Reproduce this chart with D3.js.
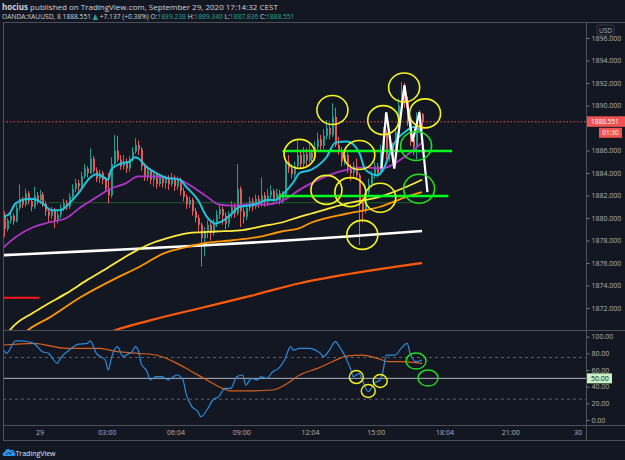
<!DOCTYPE html>
<html>
<head>
<meta charset="utf-8">
<script src="https://cdn.jsdelivr.net/npm/d3@7"></script>
<style>
  html, body { margin: 0; background: #131722; }
  svg { display: block; font-family: "Open Sans", "DejaVu Sans", sans-serif; }
</style>
</head>
<body>
<svg id="chart" width="625" height="460"></svg>
<script>
// ---- data (8 min bars, first bar 28 Sep 22:24) ----
var opens = [1880.3,1879.0,1879.8,1880.2,1879.7,1880.9,1881.7,1881.2,1882.2,1881.5,1881.0,1882.0,1881.6,1882.1,1881.3,1880.6,1880.2,1880.7,1879.8,1880.3,
  1880.9,1881.3,1881.0,1881.9,1882.6,1883.1,1882.8,1883.7,1884.4,1884.0,1885.3,1884.2,1883.5,1884.0,1883.4,1882.6,1882.0,1884.8,1886.0,1885.2,
  1884.6,1885.0,1884.4,1885.2,1885.9,1886.5,1886.1,1884.6,1883.6,1884.2,1883.4,1883.9,1883.0,1883.6,1883.1,1883.5,1883.0,1883.6,1882.8,1883.4,
  1882.4,1881.9,1881.2,1881.6,1880.6,1880.0,1879.4,1878.2,1878.8,1879.4,1878.7,1879.6,1880.3,1880.8,1880.2,1879.5,1880.3,1881.0,1880.4,1882.6,
  1880.6,1880.1,1880.9,1881.5,1881.0,1881.7,1881.3,1882.0,1881.4,1882.0,1882.4,1881.7,1882.2,1881.6,1882.0,1885.0,1884.4,1883.9,1884.6,1885.6,
  1884.8,1885.7,1885.1,1885.8,1885.3,1886.3,1887.0,1886.4,1887.3,1888.0,1887.4,1889.0,1886.5,1886.0,1885.0,1885.6,1884.5,1884.0,1884.6,1883.8,
  1881.4,1880.6,1882.3,1883.0,1883.8,1884.6,1884.0,1886.0,1887.6,1885.6,1886.4,1885.4,1887.6,1890.0,1891.2,1890.4,1888.6,1887.0,1886.3,1888.4,
  1889.238];
var highs = [1880.6,1880.0,1880.5,1880.4,1881.2,1883.0,1881.9,1882.6,1882.4,1881.8,1882.8,1882.3,1882.5,1882.3,1881.5,1880.9,1881.0,1880.9,1880.6,1881.2,
  1881.7,1881.6,1882.2,1883.0,1883.5,1883.4,1884.1,1884.8,1884.6,1886.2,1885.5,1884.5,1884.3,1884.2,1883.6,1884.0,1885.4,1887.4,1887.3,1885.6,
  1885.6,1885.3,1885.5,1886.3,1887.1,1886.9,1886.3,1884.9,1884.6,1884.4,1884.2,1884.1,1883.9,1883.8,1883.8,1883.8,1884.0,1883.8,1883.7,1883.6,
  1882.7,1882.1,1881.9,1881.8,1880.9,1880.3,1879.6,1879.2,1879.8,1879.6,1879.9,1880.7,1881.2,1881.0,1880.5,1880.6,1881.5,1881.3,1884.8,1882.8,
  1881.0,1881.3,1881.9,1881.8,1882.1,1882.0,1883.6,1882.3,1882.6,1882.9,1882.6,1882.6,1882.5,1882.4,1885.4,1885.6,1884.8,1885.0,1886.9,1886.0,
  1886.3,1886.2,1886.6,1886.1,1886.8,1887.6,1887.4,1887.9,1888.7,1888.4,1890.2,1889.8,1887.2,1886.3,1886.0,1885.8,1884.8,1885.0,1885.3,1884.0,
  1881.8,1882.6,1883.5,1884.2,1885.0,1884.9,1886.5,1888.1,1887.8,1886.9,1886.7,1888.0,1890.6,1892.1,1892.0,1890.8,1889.0,1887.4,1889.4,1889.6,
  1889.34];
var lows = [1878.3,1878.8,1879.5,1879.4,1879.6,1880.7,1880.9,1881.0,1881.2,1880.6,1880.8,1881.2,1881.3,1881.0,1880.2,1879.6,1879.9,1879.1,1879.5,1880.0,
  1880.6,1880.7,1880.8,1881.7,1882.3,1882.4,1882.6,1883.5,1883.6,1883.9,1884.0,1883.2,1883.1,1883.0,1882.3,1881.3,1881.8,1884.6,1885.0,1884.3,
  1884.3,1884.0,1884.1,1885.0,1885.7,1885.6,1884.2,1883.3,1883.3,1883.0,1882.8,1882.6,1882.8,1882.7,1882.6,1882.5,1882.8,1882.4,1882.5,1882.0,
  1881.5,1880.8,1880.9,1880.2,1879.6,1878.8,1875.7,1876.6,1878.2,1878.0,1878.4,1879.2,1879.9,1879.4,1879.0,1879.2,1880.0,1880.0,1880.2,1879.2,
  1879.5,1879.8,1880.6,1880.6,1880.8,1880.9,1881.0,1881.0,1881.1,1881.7,1881.3,1881.4,1881.2,1881.3,1881.8,1884.0,1883.5,1883.6,1884.4,1884.4,
  1884.5,1884.6,1884.9,1884.9,1885.1,1886.0,1886.0,1886.1,1887.0,1887.0,1887.2,1886.3,1885.6,1884.6,1884.7,1884.0,1883.3,1883.5,1883.4,1877.6,
  1879.6,1880.4,1882.0,1882.7,1883.5,1883.6,1883.8,1885.8,1885.2,1885.0,1884.9,1885.2,1887.4,1889.6,1889.8,1888.2,1886.4,1885.6,1885.2,1887.6,
  1887.836];
var closes = [1879.0,1879.8,1880.2,1879.7,1880.9,1881.7,1881.2,1882.2,1881.5,1881.0,1882.0,1881.6,1882.1,1881.3,1880.6,1880.2,1880.7,1879.8,1880.3,1880.9,
  1881.3,1881.0,1881.9,1882.6,1883.1,1882.8,1883.7,1884.4,1884.0,1885.3,1884.2,1883.5,1884.0,1883.4,1882.6,1882.0,1884.8,1886.0,1885.2,1884.6,
  1885.0,1884.4,1885.2,1885.9,1886.5,1886.1,1884.6,1883.6,1884.2,1883.4,1883.9,1883.0,1883.6,1883.1,1883.5,1883.0,1883.6,1882.8,1883.4,1882.4,
  1881.9,1881.2,1881.6,1880.6,1880.0,1879.4,1878.2,1878.8,1879.4,1878.7,1879.6,1880.3,1880.8,1880.2,1879.5,1880.3,1881.0,1880.4,1882.6,1880.6,
  1880.1,1880.9,1881.5,1881.0,1881.7,1881.3,1882.0,1881.4,1882.0,1882.4,1881.7,1882.2,1881.6,1882.0,1885.0,1884.4,1883.9,1884.6,1885.6,1884.8,
  1885.7,1885.1,1885.8,1885.3,1886.3,1887.0,1886.4,1887.3,1888.0,1887.4,1889.0,1886.5,1886.0,1885.0,1885.6,1884.5,1884.0,1884.6,1883.8,1881.4,
  1880.6,1882.3,1883.0,1883.8,1884.6,1884.0,1886.0,1887.6,1885.6,1886.4,1885.4,1887.6,1890.0,1891.2,1890.4,1888.6,1887.0,1886.3,1888.4,1889.2,
  1888.551];

// moving averages: [bar, price]
var emaFast = [[0,1880.1],[2,1880.4],[4,1881.3],[8,1881.7],[10,1881.7],[13,1881.3],[16,1880.7],[19,1880.7],[22,1881.3],[25,1882.2],
  [29,1883.6],[31,1883.9],[33,1883.7],[35,1883.4],[36,1884.3],[40,1884.9],[42,1885.0],[44,1885.4],[45,1885.3],[48,1884.5],
  [51,1884.0],[54,1883.6],[59,1883.4],[61,1882.8],[65,1881.6],[68,1880.1],[71,1879.5],[73,1879.7],[76,1880.3],[79,1881.0],
  [82,1881.1],[85,1881.3],[88,1881.6],[91,1881.6],[93,1882.0],[97,1883.2],[99,1884.0],[103,1884.3],[108,1885.4],[111,1886.7],
  [115,1886.8],[119,1885.8],[121,1884.3],[125,1883.8],[127,1884.3],[130,1886.3],[135,1887.8],[137,1888.1],[140,1887.7]];
var emaSlow = [[0,1877.4],[4,1878.3],[10,1879.2],[15,1879.6],[21,1880.0],[26,1881.0],[32,1882.0],[35,1882.5],[41,1883.1],[45,1883.7],
  [49,1883.7],[54,1883.6],[59,1883.4],[63,1882.8],[68,1881.9],[72,1881.2],[76,1881.1],[82,1881.2],[88,1881.2],[93,1881.5],
  [99,1882.5],[103,1883.1],[115,1884.3],[121,1884.5],[126,1884.4],[135,1885.6],[140,1886.7]];
var ma50 = [[0,1869.2],[2,1870.0],[10,1871.6],[15,1872.4],[21,1873.3],[28,1874.5],[35,1875.6],[43,1876.9],[50,1877.8],[56,1878.3],
  [63,1878.7],[71,1878.8],[79,1878.9],[87,1879.3],[93,1879.6],[99,1880.1],[103,1880.4],[115,1881.3],[126,1881.9],[135,1882.8],[140,1883.4]];
var ema100 = [[6,1869.5],[8,1870.0],[15,1871.1],[26,1873.0],[38,1874.7],[45,1875.6],[54,1876.9],[61,1877.4],[68,1877.8],[76,1878.0],
  [85,1878.3],[93,1878.8],[99,1879.1],[103,1879.6],[115,1880.4],[126,1881.0],[135,1881.9],[140,1882.3]];
var ma200 = [[0,1876.7],[32,1877.1],[66,1877.55],[92,1877.95],[115,1878.35],[140,1878.85]];
var ema200 = [[33,1869.6],[37,1870.0],[49,1870.9],[66,1872.0],[83,1873.1],[99,1874.2],[115,1875.0],[132,1875.7],[140,1876.0]];

// RSI pane: [bar, value]
var rsi = [[0,84],[1,80],[4,95],[6,95],[10,92],[13,82],[15,80],[18,68],[19,74],[22,84],[25,91],[28,92],[29,95],[31,80],[34,72],[35,60],
  [36,74],[38,88],[40,76],[41,78],[43,82],[44,88],[45,84],[46,68],[48,58],[49,48],[51,52],[53,52],[55,48],[56,50],[58,54],[60,48],
  [61,32],[63,16],[65,10],[66,4],[68,12],[70,24],[72,28],[74,38],[76,38],[78,52],[80,54],[81,42],[83,50],[85,48],[86,52],[88,50],
  [90,58],[92,62],[94,72],[96,88],[97,84],[99,86],[102,86],[106,80],[107,76],[109,84],[111,94],[112,90],[114,78],[116,62],[117,52],
  [119,56],[120,48],[122,34],[123,38],[124,44],[126,48],[127,60],[128,78],[131,78],[133,86],[135,92],[136,80],[138,70],[140,72]];
var rsiMa = [[0,90],[10,92],[21,86],[32,86],[38,82],[45,80],[51,78],[58,68],[63,58],[68,48],[72,40],[76,35],[83,35],[90,36],[95,44],
  [99,54],[105,62],[110,70],[115,77],[120,78],[125,74],[129,70],[133,70],[140,68]];

// drawings on the chart
var yellowMarks = [[99,1885.7],[110,1889.6],[119,1885.6],[108,1882.5],[116,1882.3],[126,1881.8],[120,1878.5],[127,1888.7],[134,1891.6],[141,1889.3]];
var greenMarks = [[138,1886.4],[139,1882.6]];
var greenLevels = [[93.3,150,1885.96],[92,148.8,1881.96]];
var zigzag = [[126.4,1884.4],[128,1889.4],[130.7,1884.4],[134.1,1891.8],[136.8,1886.8],[139.1,1889.4],[141.8,1882.3]];
var darkLevel = [15,139,1881.36];
var redLevel = [-0.4,12,1872.92];
var rsiYellow = [[118,51.6],[122,34.8],[126,46.8]];
var rsiGreen = [[138,70.8],[142,50.4]];

// 1888.000 sits under the last-price tag, so it is left out
var priceTicks = [1872,1874,1876,1878,1880,1882,1884,1886,1890,1892,1894,1896];
var rsiTicks = [0,20,40,60,80,100];
var timeTicks = [[0,0,"29"],[0,3,"03:00"],[0,6.0667,"06:04"],[0,9,"09:00"],[0,12.0667,"12:04"],[0,15,"15:00"],[0,18.0667,"18:04"],[0,21,"21:00"],[1,0,"30"]];
var lastPrice = 1888.551;

// ---- layout ----
var svg = d3.select("#chart");
var L = 3, AX = 586, TOP = 22, MAINB = 330, RSIB = 425, BOT = 440;
svg.append("rect").attr("width", 625).attr("height", 460).attr("fill", "#131722");

var barStart = new Date(2020, 8, 28, 22, 24).getTime();
function barTime(i) { return new Date(barStart + i * 8 * 60000); }

var x = d3.scaleTime()
  .domain([new Date(2020, 8, 29, 0, 0), new Date(2020, 8, 30, 0, 0)])
  .range([39.5, 577.5]);
var y = d3.scaleLinear().domain([1872, 1896]).range([308, 38]);
var yr = d3.scaleLinear().domain([0, 100]).range([420, 336.7]);
var bx = function(i) { return x(barTime(i)); };

var defs = svg.append("defs");
defs.append("clipPath").attr("id", "clipMain").append("rect")
  .attr("x", L + 1).attr("y", TOP + 1).attr("width", AX - L - 1).attr("height", MAINB - TOP - 1);
defs.append("clipPath").attr("id", "clipRsi").append("rect")
  .attr("x", L + 1).attr("y", MAINB + 1).attr("width", AX - L - 1).attr("height", RSIB - MAINB - 1);

// frame
var frame = svg.append("g").attr("stroke", "#4c505b").attr("stroke-width", 1).attr("fill", "none");
frame.append("rect").attr("x", L + 0.5).attr("y", TOP + 0.5).attr("width", 625).attr("height", BOT - TOP);
frame.append("line").attr("x1", L).attr("x2", 625).attr("y1", MAINB + 0.5).attr("y2", MAINB + 0.5);
frame.append("line").attr("x1", L).attr("x2", 625).attr("y1", RSIB + 0.5).attr("y2", RSIB + 0.5);
frame.append("line").attr("x1", AX + 0.5).attr("x2", AX + 0.5).attr("y1", TOP).attr("y2", BOT);

// ---- main pane ----
var main = svg.append("g").attr("clip-path", "url(#clipMain)");

// last price dotted line
main.append("line").attr("x1", L).attr("x2", AX).attr("y1", y(lastPrice)).attr("y2", y(lastPrice))
  .attr("stroke", "#ef5350").attr("stroke-width", 1).attr("stroke-dasharray", "1.5,2");

// dark horizontal level
main.append("line").attr("x1", bx(darkLevel[0])).attr("x2", bx(darkLevel[1]))
  .attr("y1", y(darkLevel[2])).attr("y2", y(darkLevel[2]))
  .attr("stroke", "#1f5c2a").attr("stroke-width", 1);

// candles
var up = "#1f9c8c", down = "#e45a57";
var bars = d3.range(closes.length);
main.append("g").selectAll("line").data(bars).join("line")
  .attr("x1", function(i) { return Math.round(bx(i)) + 0.5; })
  .attr("x2", function(i) { return Math.round(bx(i)) + 0.5; })
  .attr("y1", function(i) { return y(highs[i]); })
  .attr("y2", function(i) { return y(lows[i]); })
  .attr("stroke", function(i) { return closes[i] >= opens[i] ? up : down; })
  .attr("stroke-width", 1);
main.append("g").selectAll("rect").data(bars).join("rect")
  .attr("x", function(i) { return Math.round(bx(i)); })
  .attr("width", 2)
  .attr("y", function(i) { return y(Math.max(opens[i], closes[i])); })
  .attr("height", function(i) { return Math.max(1, Math.abs(y(opens[i]) - y(closes[i]))); })
  .attr("fill", function(i) { return closes[i] >= opens[i] ? up : down; });

// moving averages
var maLine = d3.line().x(function(d) { return bx(d[0]); }).y(function(d) { return y(d[1]); }).curve(d3.curveMonotoneX);
[[ma200, "#ffffff", 2.6], [ema200, "#ff5a0a", 2.2], [ema100, "#ff9800", 1.8], [ma50, "#ffeb3b", 1.8],
 [emaSlow, "#b234c8", 1.8], [emaFast, "#22c4dc", 2]].forEach(function(s) {
  main.append("path").datum(s[0]).attr("d", maLine)
    .attr("fill", "none").attr("stroke", s[1]).attr("stroke-width", s[2]);
});

// short red level on the left
main.append("line").attr("x1", bx(redLevel[0])).attr("x2", bx(redLevel[1]))
  .attr("y1", y(redLevel[2])).attr("y2", y(redLevel[2]))
  .attr("stroke", "#ff1a1a").attr("stroke-width", 2);

// green levels
main.append("g").selectAll("line").data(greenLevels).join("line")
  .attr("x1", function(d) { return bx(d[0]); }).attr("x2", function(d) { return bx(d[1]); })
  .attr("y1", function(d) { return y(d[2]); }).attr("y2", function(d) { return y(d[2]); })
  .attr("stroke", "#00ff1e").attr("stroke-width", 2.5);

// white zig-zag
main.append("path").datum(zigzag)
  .attr("d", d3.line().x(function(d) { return bx(d[0]); }).y(function(d) { return y(d[1]); }))
  .attr("fill", "none").attr("stroke", "#ffffff").attr("stroke-width", 2.2).attr("stroke-linejoin", "miter");

// circles
main.append("g").selectAll("ellipse").data(yellowMarks).join("ellipse")
  .attr("cx", function(d) { return bx(d[0]); }).attr("cy", function(d) { return y(d[1]); })
  .attr("rx", 15.5).attr("ry", 14.5)
  .attr("fill", "none").attr("stroke", "#f5f51e").attr("stroke-width", 1.6);
main.append("g").selectAll("ellipse").data(greenMarks).join("ellipse")
  .attr("cx", function(d) { return bx(d[0]); }).attr("cy", function(d) { return y(d[1]); })
  .attr("rx", 15.5).attr("ry", 14.5)
  .attr("fill", "none").attr("stroke", "#1ee01e").attr("stroke-width", 1.6);

// ---- RSI pane ----
var rp = svg.append("g").attr("clip-path", "url(#clipRsi)");
[[75, "3,3", "#5d606b"], [25, "3,3", "#5d606b"], [50, null, "#b2b5be"]].forEach(function(b) {
  rp.append("line").attr("x1", L).attr("x2", AX).attr("y1", yr(b[0])).attr("y2", yr(b[0]))
    .attr("stroke", b[2]).attr("stroke-width", 1).attr("stroke-dasharray", b[1]);
});
var rLine = d3.line().x(function(d) { return bx(d[0]); }).y(function(d) { return yr(d[1]); }).curve(d3.curveMonotoneX);
rp.append("path").datum(rsiMa).attr("d", rLine).attr("fill", "none").attr("stroke", "#d8601a").attr("stroke-width", 1.2);
rp.append("path").datum(rsi).attr("d", rLine).attr("fill", "none").attr("stroke", "#2a8ddd").attr("stroke-width", 1.2);
rp.append("g").selectAll("ellipse").data(rsiYellow).join("ellipse")
  .attr("cx", function(d) { return bx(d[0]); }).attr("cy", function(d) { return yr(d[1]); })
  .attr("rx", 7).attr("ry", 6.5).attr("fill", "none").attr("stroke", "#f5f51e").attr("stroke-width", 1.4);
rp.append("g").selectAll("ellipse").data(rsiGreen).join("ellipse")
  .attr("cx", function(d) { return bx(d[0]); }).attr("cy", function(d) { return yr(d[1]); })
  .attr("rx", 10).attr("ry", 8).attr("fill", "none").attr("stroke", "#1ee01e").attr("stroke-width", 1.4);

// ---- axes ----
function styleAxis(g) {
  g.select(".domain").remove();
  g.selectAll(".tick line").attr("stroke", "#787b86");
  g.selectAll(".tick text").attr("fill", "#b2b5be").style("font-size", "7px")
    .style("font-family", "'Open Sans', 'DejaVu Sans', sans-serif");
}
svg.append("g").attr("transform", "translate(" + (AX + 0.5) + ",0)")
  .call(d3.axisRight(y).tickValues(priceTicks).tickFormat(d3.format(".3f")).tickSize(3).tickPadding(2))
  .call(styleAxis);
svg.append("g").attr("transform", "translate(" + (AX + 0.5) + ",0)")
  .call(d3.axisRight(yr).tickValues(rsiTicks).tickFormat(d3.format(".2f")).tickSize(3).tickPadding(2))
  .call(styleAxis);
var tDates = timeTicks.map(function(t) { return new Date(2020, 8, 29 + t[0], 0, Math.round(t[1] * 60)); });
svg.append("g").attr("transform", "translate(0," + RSIB + ")")
  .call(d3.axisBottom(x).tickValues(tDates).tickSize(0).tickPadding(5)
    .tickFormat(function(d, i) { return timeTicks[i][2]; }))
  .call(styleAxis);

// price labels on the scale
var usd = svg.append("g");
usd.append("rect").attr("x", 597).attr("y", 25).attr("width", 17).attr("height", 10).attr("rx", 2)
  .attr("fill", "#131722").attr("stroke", "#363a45");
usd.append("text").attr("x", 605.5).attr("y", 32.5).attr("text-anchor", "middle")
  .attr("fill", "#b2b5be").style("font-size", "6.5px").text("USD");

var lp = svg.append("g");
lp.append("rect").attr("x", AX + 1).attr("y", y(lastPrice) - 5.5).attr("width", 38).attr("height", 10.5).attr("fill", "#f05350");
lp.append("text").attr("x", 591).attr("y", y(lastPrice) + 2.3).attr("fill", "#ffffff").style("font-size", "6.5px").text(d3.format(".3f")(lastPrice));
lp.append("rect").attr("x", 599).attr("y", y(lastPrice) + 6).attr("width", 23).attr("height", 10).attr("fill", "#f05350");
lp.append("text").attr("x", 610.5).attr("y", y(lastPrice) + 13.5).attr("text-anchor", "middle")
  .attr("fill", "#ffffff").style("font-size", "6.5px").text("01:30");

var rl = svg.append("g");
rl.append("rect").attr("x", AX + 1).attr("y", yr(50) - 5).attr("width", 25).attr("height", 10).attr("fill", "#c8f0c0");
rl.append("text").attr("x", 591).attr("y", yr(50) + 2.5).attr("fill", "#131722").style("font-size", "7px").text("50.00");

// ---- header ----
var h1 = svg.append("text").attr("x", 2).attr("y", 9.5).attr("fill", "#d1d4dc").style("font-size", "8px");
h1.append("tspan").attr("font-weight", "bold").text("hocius");
h1.append("tspan").text(" published on TradingView.com, September 29, 2020 17:14:32 CEST");

// second line is drawn at natural width, then squeezed horizontally to the reference width
var h2g = svg.append("g");
var h2 = h2g.append("text").attr("x", 0).attr("y", 0).attr("fill", "#d1d4dc").style("font-size", "8px");
var teal = "#26a69a";
[["OANDA:XAUUSD, 8  1888.551 ", null], ["\u25B2", teal], [" +7.137 (+0.38%) O:", null], ["1889.238", teal],
 [" H:", null], ["1889.340", teal], [" L:", null], ["1887.836", teal], [" C:", null], ["1888.551", teal]
].forEach(function(p) {
  var t = h2.append("tspan").text(p[0]);
  if (p[1]) t.attr("fill", p[1]);
});
var h2w = h2.node().getComputedTextLength();
h2g.attr("transform", "translate(2,19) scale(" + (293 / h2w) + ",1)");

// ---- footer logo ----
var logo = svg.append("g").attr("transform", "translate(3,448)");
logo.append("path").attr("d", "M1,8 C-1,8 -1,4 2,4 C2,1 6,0 7.5,2.5 C9,1 11.5,2 11,4.5 C13,4.5 13,8 11,8 Z").attr("fill", "#2196f3");
logo.append("path").attr("d", "M3,7 L5.5,4.5 L7,6 L9.5,3.5").attr("fill", "none").attr("stroke", "#131722").attr("stroke-width", 1);
svg.append("text").attr("x", 15.5).attr("y", 455.5).attr("fill", "#e0e3eb").style("font-size", "7px").text("TradingView");
</script>
</body>
</html>
